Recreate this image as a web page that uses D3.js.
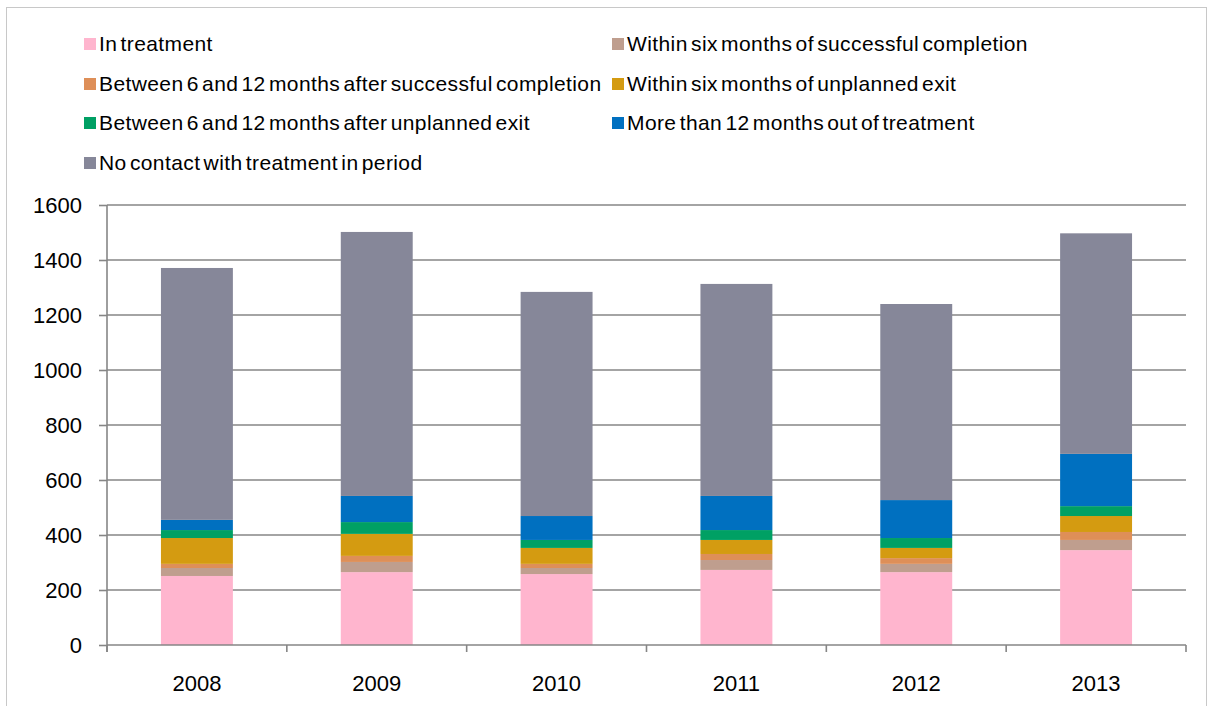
<!DOCTYPE html>
<html>
<head>
<meta charset="utf-8">
<script src="https://cdn.jsdelivr.net/npm/d3@7"></script>
<style>
  body { margin: 0; background: #fff; }
  svg { display: block; font-family: "Liberation Sans", Arial, sans-serif; }
</style>
</head>
<body>
<div id="chart"></div>
<script>
// ---------- data ----------
var years = ["2008", "2009", "2010", "2011", "2012", "2013"];
var seriesNames = [
  "In treatment",
  "Within six months of successful completion",
  "Between 6 and 12 months after successful completion",
  "Within six months of unplanned exit",
  "Between 6 and 12 months after unplanned exit",
  "More than 12 months out of treatment",
  "No contact with treatment in period"
];
var seriesColors = ["#ffb5ce", "#bf9e8e", "#de8f58", "#d49b11", "#00a064", "#0070c0", "#868799"];

var inTreatment      = [251, 265, 258, 273, 265, 345];
var sixSuccess       = [29, 37, 22, 36, 30, 37];
var twelveSuccess    = [15, 22, 15, 22, 21, 29];
var sixUnplanned     = [94, 80, 58, 51, 37, 58];
var twelveUnplanned  = [29, 43, 29, 36, 36, 36];
var moreThan12       = [37, 95, 87, 124, 138, 190];
var noContact        = [916, 960, 815, 771, 713, 802];

var yTicks = [0, 200, 400, 600, 800, 1000, 1200, 1400, 1600];

//---------------------------------- layout --------------------
var width = 1213, height = 706;
var margin = {left: 107, right: 27, top: 205, bottom: 61};
var axisColor = "#868686";

var svg = d3.select("#chart").append("svg")
    .attr("width", width)
    .attr("height", height);

// outer frame
svg.append("rect")
    .attr("x", 6.5).attr("y", 7.5)
    .attr("width", 1200).attr("height", 710)
    .attr("fill", "none")
    .attr("stroke", "#c8c8c8")
    .attr("stroke-width", 1);

var table = years.map(function(y, i) {
  return {
    year: y,
    s0: inTreatment[i], s1: sixSuccess[i], s2: twelveSuccess[i], s3: sixUnplanned[i],
    s4: twelveUnplanned[i], s5: moreThan12[i], s6: noContact[i]
  };
});
var keys = ["s0", "s1", "s2", "s3", "s4", "s5", "s6"];
var stacked = d3.stack().keys(keys)(table);

var x = d3.scaleBand()
    .domain(years)
    .range([margin.left, width - margin.right])
    .paddingInner(0.6)
    .paddingOuter(0.3);

var y = d3.scaleLinear()
    .domain([0, 1600])
    .range([height - margin.bottom, margin.top]);

// gridlines
svg.append("g").selectAll("line")
    .data(yTicks.filter(function(d) { return d > 0; }))
    .enter().append("line")
    .attr("x1", margin.left).attr("x2", width - margin.right)
    .attr("y1", function(d) { return y(d); })
    .attr("y2", function(d) { return y(d); })
    .attr("stroke", axisColor)
    .attr("stroke-width", 1.6);

// bars
svg.append("g").selectAll("g")
    .data(stacked)
    .enter().append("g")
    .attr("fill", function(d, i) { return seriesColors[i]; })
    .selectAll("rect")
    .data(function(d) { return d; })
    .enter().append("rect")
    .attr("x", function(d) { return x(d.data.year); })
    .attr("width", x.bandwidth())
    .attr("y", function(d) { return y(d[1]); })
    .attr("height", function(d) { return y(d[0]) - y(d[1]); });

// y axis
var yAxis = svg.append("g")
    .attr("transform", "translate(" + margin.left + ",0)")
    .call(d3.axisLeft(y).tickValues(yTicks).tickFormat(d3.format("d"))
      .tickSize(8).tickPadding(17).tickSizeOuter(0));
yAxis.select(".domain").attr("stroke", axisColor).attr("stroke-width", 1.6)
    .attr("d", "M0," + y(1600) + "V" + (y(0) + 7));
yAxis.selectAll(".tick line").attr("stroke", axisColor).attr("stroke-width", 1.6);
yAxis.selectAll(".tick text")
    .attr("fill", "#000")
    .style("font-size", "22px")
    .style("font-family", "'Liberation Sans', Arial, sans-serif");

// x axis
var xAxisG = svg.append("g")
    .attr("transform", "translate(0," + y(0) + ")");
xAxisG.append("line")
    .attr("x1", margin.left).attr("x2", width - margin.right)
    .attr("stroke", axisColor).attr("stroke-width", 1.6);
var step = x.step();
var bounds = d3.range(years.length + 1).map(function(i) { return margin.left + i * step; });
xAxisG.selectAll(".xtick")
    .data(bounds)
    .enter().append("line")
    .attr("class", "xtick")
    .attr("x1", function(d) { return d; }).attr("x2", function(d) { return d; })
    .attr("y1", 0).attr("y2", 7)
    .attr("stroke", axisColor).attr("stroke-width", 1.6);
xAxisG.selectAll(".xlabel")
    .data(years)
    .enter().append("text")
    .attr("class", "xlabel")
    .attr("x", function(d) { return x(d) + x.bandwidth() / 2; })
    .attr("y", 46)
    .attr("text-anchor", "middle")
    .style("font-size", "22px")
    .text(function(d) { return d; });

//---------------------------------- legend --------------------
var legendCols = [84, 612];
var legendRows = [44, 84, 123, 163];
var legend = svg.append("g").selectAll("g")
    .data(seriesNames)
    .enter().append("g")
    .attr("transform", function(d, i) {
      return "translate(" + legendCols[i % 2] + "," + legendRows[Math.floor(i / 2)] + ")";
    });
legend.append("rect")
    .attr("x", 0).attr("y", -6)
    .attr("width", 12).attr("height", 12)
    .attr("fill", function(d, i) { return seriesColors[i]; });
legend.append("text")
    .attr("x", 15)
    .attr("dy", "0.35em")
    .style("font-size", "21px")
    .style("letter-spacing", "0.4px")
    .style("word-spacing", "-3px")
    .text(function(d) { return d; });
</script>
</body>
</html>
